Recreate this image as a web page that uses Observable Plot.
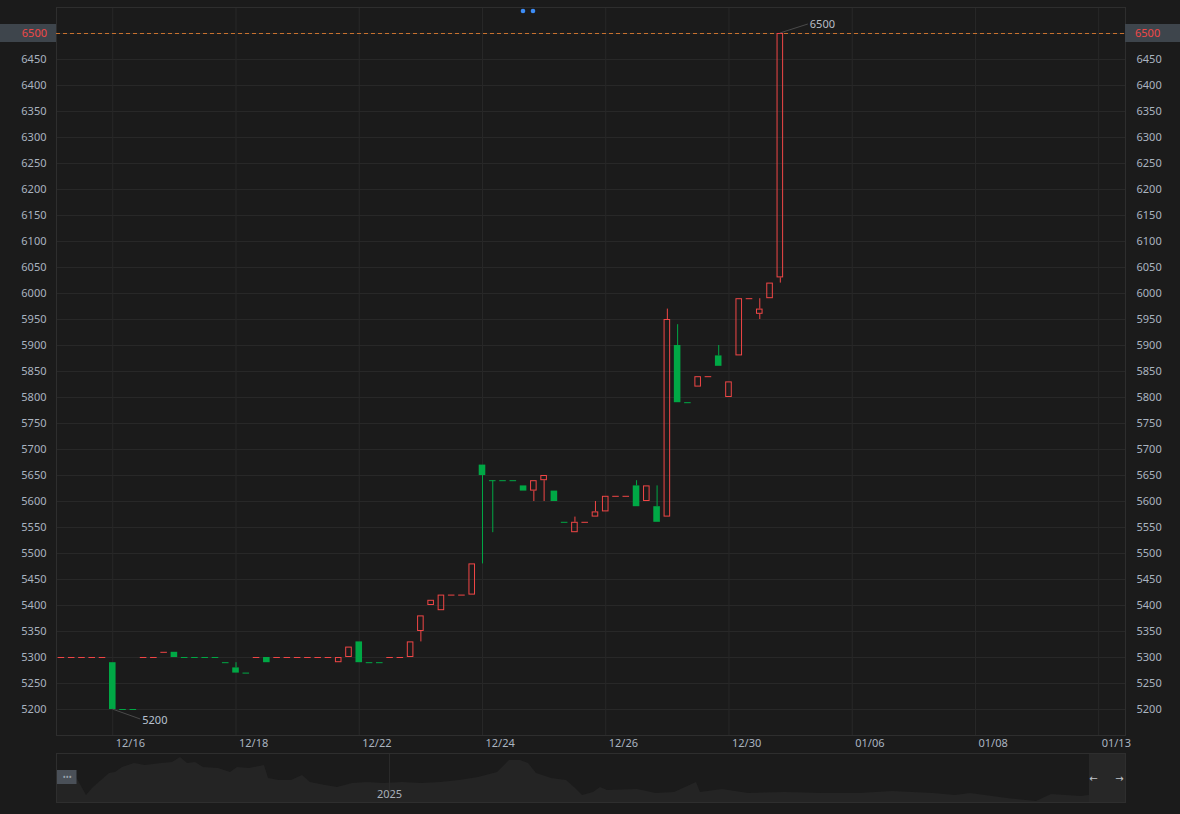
<!DOCTYPE html>
<html><head><meta charset="utf-8">
<script src="https://cdn.jsdelivr.net/npm/d3@7"></script>
<script src="https://cdn.jsdelivr.net/npm/@observablehq/plot@0.6"></script>
<style>
html,body{margin:0;padding:0;background:#1b1b1b;overflow:hidden;}
#chart svg{display:block;}
</style></head><body><div id="chart"></div>
<script>
// ---- candle data (one value per bar, left to right) ----
const opens = [
  5300,5300,5300,5300,5300,5290,5200,5200,5300,5300,
  5310,5310,5300,5300,5300,5300,5290,5280,5270,5300,
  5300,5300,5300,5300,5300,5300,5300,5290,5300,5330,
  5290,5290,5300,5300,5300,5350,5400,5390,5420,5420,
  5420,5670,5640,5640,5640,5630,5620,5640,5620,5560,
  5540,5560,5570,5580,5610,5610,5630,5600,5590,5570,
  5900,5790,5820,5840,5880,5800,5880,5990,5960,5990,
  6030];
const highs = [
  5300,5300,5300,5300,5300,5290,5200,5200,5300,5300,
  5310,5310,5300,5300,5300,5300,5290,5290,5270,5300,
  5300,5300,5300,5300,5300,5300,5300,5300,5320,5330,
  5290,5290,5300,5300,5330,5380,5410,5420,5420,5420,
  5480,5670,5640,5640,5640,5630,5640,5650,5620,5560,
  5570,5560,5600,5610,5610,5610,5640,5630,5630,5970,
  5940,5790,5840,5840,5900,5830,5990,5990,5990,6020,
  6500];
const lows = [
  5300,5300,5300,5300,5300,5200,5200,5200,5300,5300,
  5310,5300,5300,5300,5300,5300,5290,5270,5270,5300,
  5290,5300,5300,5300,5300,5300,5300,5290,5300,5290,
  5290,5290,5300,5300,5300,5330,5400,5390,5420,5420,
  5420,5480,5540,5640,5640,5620,5600,5600,5600,5560,
  5540,5560,5570,5580,5610,5610,5590,5600,5560,5570,
  5790,5790,5820,5840,5860,5800,5880,5990,5950,5990,
  6020];
const closes = [
  5300,5300,5300,5300,5300,5200,5200,5200,5300,5300,
  5310,5300,5300,5300,5300,5300,5290,5270,5270,5300,
  5290,5300,5300,5300,5300,5300,5300,5300,5320,5290,
  5290,5290,5300,5300,5330,5380,5410,5420,5420,5420,
  5480,5650,5640,5640,5640,5620,5640,5650,5600,5560,
  5560,5560,5580,5610,5610,5610,5590,5630,5560,5950,
  5790,5790,5840,5840,5860,5830,5990,5990,5970,6020,
  6500];

// ---- axis ticks ----
const tickBars   = [5, 17, 29, 41, 53, 65, 77, 89, 101];
const tickLabels = ["12/16","12/18","12/22","12/24","12/26","12/30","01/06","01/08","01/13"];
const yTicks = [5200,5250,5300,5350,5400,5450,5500,5550,5600,5650,5700,5750,5800,5850,5900,5950,6000,6050,6100,6150,6200,6250,6300,6350,6400,6450];
const priceLine = 6500;

// ---- navigator overview (time position, level) ----
const navT = [0,20,30,36,45,53,59,66,78,89,105,116,124,131,139,147,162,174,181,193,208,212,223,235,246,254,269,281,296,311,327,346,365,384,403,422,441,453,464,472,480,495,510,518,526,537,544,551,581,599,618,640,644,666,692,729,766,803,836,877,899,914,951,980,995,1025,1054,1066,1069];
const navV = [18,25,7,14,22,29,30,35,39,37,39,40,45,39,40,35,34,30,35,34,37,24,22,22,27,20,17,15,19,20,19,20,19,20,22,25,30,42,42,39,29,24,22,15,7,10,15,12,13,9,10,20,10,13,9,10,9,9,11,9,7,9,4,1,8,6,10,17,19];
const navYearT = 333, navYear = "2025";

// ---- styles ----
const RED = "#f04646", GREEN = "#00a845", GRID = "#282828", TXT = "#aab4c0", BG = "#1b1b1b";
const FONT = "'Noto Sans', sans-serif";
const HW = 0.32;

const candles = opens.map((o, k) => ({b: k, o, h: highs[k], l: lows[k], c: closes[k]}));
let pd = "up", pc = null;
for (const d of candles) {
  let dir;
  if (d.c > d.o) dir = "up";
  else if (d.c < d.o) dir = "down";
  else if (pc !== null && d.c > pc) dir = "up";
  else if (pc !== null && d.c < pc) dir = "down";
  else dir = pd;
  d.dir = dir; d.top = Math.max(d.o, d.c); d.bot = Math.min(d.o, d.c);
  pd = dir; pc = d.c;
}
const col = dir => dir === "up" ? RED : GREEN;

function candleMarks(dir) {
  const s = candles.filter(d => d.dir === dir);
  const stroke = col(dir);
  return [
    Plot.ruleX(s.filter(d => d.h > d.top), {x: "b", y1: "top", y2: "h", stroke}),
    Plot.ruleX(s.filter(d => d.l < d.bot), {x: "b", y1: "l", y2: "bot", stroke}),
    Plot.ruleY(s.filter(d => d.o === d.c), {y: "c", x1: d => d.b - HW, x2: d => d.b + HW, stroke}),
    dir === "up"
      ? Plot.rect(s.filter(d => d.o !== d.c), {x1: d => d.b - HW, x2: d => d.b + HW, y1: "bot", y2: "top", fill: "none", stroke, inset: 0.5})
      : Plot.rect(s.filter(d => d.o !== d.c), {x1: d => d.b - HW, x2: d => d.b + HW, y1: "bot", y2: "top", fill: stroke})
  ];
}

const hiD = candles.reduce((a, d) => d.h > a.h ? d : a);
const loD = candles.reduce((a, d) => d.l < a.l ? d : a);

const overlay = (index, scales, values, dims) => {
  const g = d3.create("svg:g").attr("font-family", FONT).attr("font-size", 11).attr("text-anchor", "start");
  const yp = scales.y(priceLine);
  // price badges
  g.append("rect").attr("x", 0).attr("y", yp - 9).attr("width", dims.marginLeft).attr("height", 18).attr("fill", "#3e454c");
  g.append("text").attr("x", dims.marginLeft - 9).attr("y", yp).attr("dy", "0.35em").attr("text-anchor", "end").attr("fill", "#f04848").text(priceLine);
  const rx = dims.width - dims.marginRight;
  g.append("rect").attr("x", rx).attr("y", yp - 9).attr("width", dims.marginRight).attr("height", 18).attr("fill", "#3e454c");
  g.append("text").attr("x", rx + 10).attr("y", yp).attr("dy", "0.35em").attr("text-anchor", "start").attr("fill", "#f04848").text(priceLine);
  // max / min callouts
  const hx = scales.x(hiD.b), hy = scales.y(hiD.h);
  g.append("line").attr("x1", hx).attr("y1", hy).attr("x2", hx + 28).attr("y2", hy - 9).attr("stroke", "#4a4a4a");
  g.append("text").attr("x", hx + 30).attr("y", hy - 9).attr("dy", "0.35em").attr("text-anchor", "start").attr("fill", "#b8bec6").text(hiD.h);
  const lx = scales.x(loD.b), ly = scales.y(loD.l);
  g.append("line").attr("x1", lx).attr("y1", ly).attr("x2", lx + 28).attr("y2", ly + 10).attr("stroke", "#4a4a4a");
  g.append("text").attr("x", lx + 30).attr("y", ly + 11).attr("dy", "0.35em").attr("text-anchor", "start").attr("fill", "#b8c2d0").text(loD.l);
  // top dots
  g.append("circle").attr("cx", 523).attr("cy", 11).attr("r", 2.3).attr("fill", "#3d8cf5");
  g.append("circle").attr("cx", 533).attr("cy", 11).attr("r", 2.3).attr("fill", "#3d8cf5");
  return g.node();
};

const fmt = d => String(d);

const main = Plot.plot({
  width: 1180, height: 752,
  marginTop: 7, marginBottom: 17, marginLeft: 56, marginRight: 55,
  style: {background: BG, color: TXT, fontFamily: FONT, fontSize: "11px"},
  x: {type: "linear", domain: [-0.48, 103.61]},
  y: {domain: [5150, 6550]},
  marks: [
    Plot.gridY(yTicks.concat([priceLine]), {stroke: GRID, strokeOpacity: 1}),
    Plot.gridX(tickBars, {stroke: GRID, strokeOpacity: 1}),
    Plot.frame({stroke: "#2e2e2e"}),
    Plot.ruleY([priceLine], {stroke: "#c8712e", strokeDasharray: "4,3"}),
    ...candleMarks("up"),
    ...candleMarks("down"),
    Plot.axisY(yTicks, {anchor: "left", tickSize: 0, tickPadding: 10, color: TXT, fontSize: 11, label: null, tickFormat: fmt}),
    Plot.axisY(yTicks, {anchor: "right", tickSize: 0, tickPadding: 11, color: TXT, fontSize: 11, label: null, tickFormat: fmt}),
    Plot.axisX(tickBars, {anchor: "bottom", tickSize: 0, tickPadding: 4, color: TXT, fontSize: 11, label: null,
      textAnchor: "start", dx: 3, tickFormat: d => tickLabels[tickBars.indexOf(d)]}),
    overlay
  ]
});

const navData = navT.map((t, k) => ({t, v: navV[k]}));
const nav = Plot.plot({
  width: 1180, height: 62,
  marginTop: 1, marginBottom: 12, marginLeft: 56, marginRight: 55,
  style: {background: BG, color: TXT, fontFamily: FONT, fontSize: "11px"},
  x: {domain: [0, 1069], axis: null},
  y: {domain: [0, 49], axis: null},
  marks: [
    Plot.areaY(navData, {x: "t", y: "v", fill: "#242424"}),
    Plot.rect([{}], {x1: 1033, x2: 1069, y1: 0, y2: 49, fill: "#272727"}),
    Plot.ruleX([navYearT], {y1: 10, y2: 49, stroke: "#2a2a2a"}),
    Plot.text([navYear], {x: navYearT, frameAnchor: "bottom", dy: -5, fill: "#a8b0ba", fontSize: 11}),
    Plot.rect([{}], {x1: 1, x2: 20.5, y1: 18, y2: 32, fill: "#4a5058"}),
    Plot.text(["\u2022\u2022\u2022"], {x: 10.75, y: 25, fill: "#9aa2ac", fontSize: 8}),
    Plot.text(["\u2190", "\u2192"], {x: [1037, 1063], y: [24, 24], fill: "#c0c6cc", fontSize: 10, fontFamily: "'DejaVu Sans', sans-serif"}),
    Plot.frame({stroke: "#2e2e2e"})
  ]
});

document.getElementById("chart").append(main, nav);
</script></body></html>
